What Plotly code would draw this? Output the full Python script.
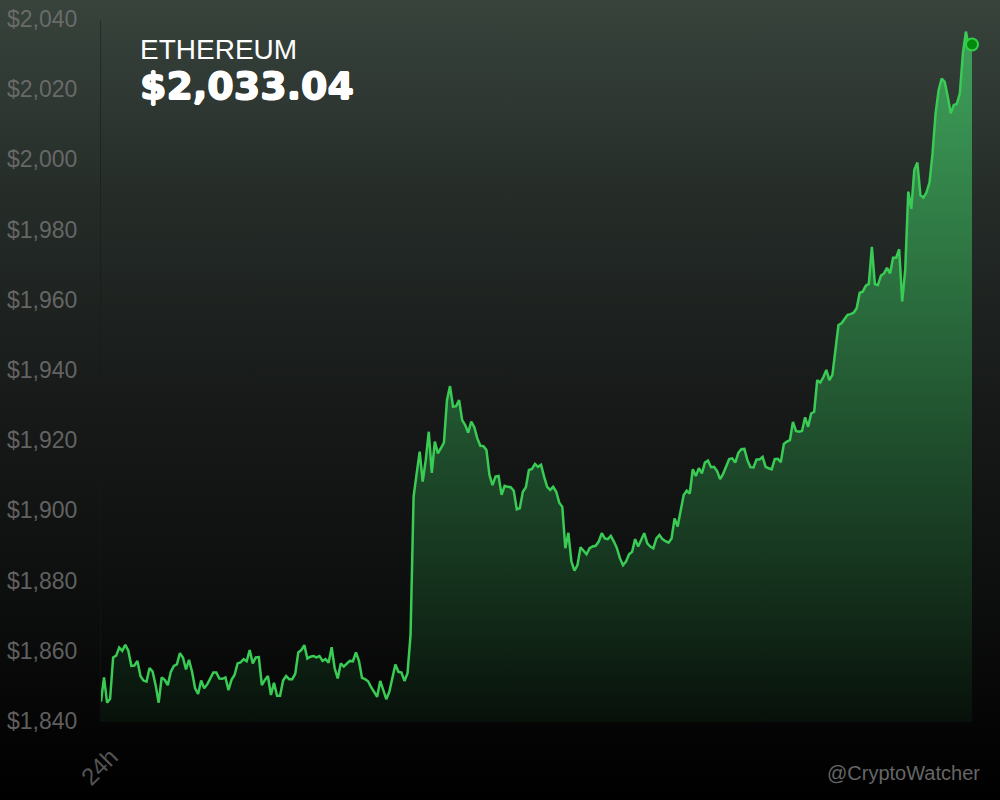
import plotly.graph_objects as go

TITLE = "ETHEREUM"
PRICE_TEXT = "$2,033.04"
WATERMARK = "@CryptoWatcher"
X_TICK_LABEL = ["24h"]
Y_TICKS = [1840, 1860, 1880, 1900, 1920, 1940, 1960, 1980, 2000, 2020, 2040]
Y_TICK_LABELS = ["$1,840", "$1,860", "$1,880", "$1,900", "$1,920", "$1,940", "$1,960", "$1,980", "$2,000", "$2,020", "$2,040"]

prices_flat = [
    1845.8, 1852.7, 1845.5, 1846.6, 1858.4, 1858.9, 1861.2, 1860.3, 1862.0, 1860.3, 1856.0, 1856.1, 1857.4, 1853.1, 1851.8,
    1851.5, 1855.4, 1854.4, 1850.5, 1845.5, 1852.7, 1852.0, 1850.5, 1854.3, 1856.0, 1856.4, 1859.6, 1858.4, 1855.0, 1857.7,
    1854.3, 1849.6, 1848.0, 1851.8, 1849.6, 1850.7, 1852.4, 1854.1, 1854.1, 1852.4, 1852.3, 1852.7, 1849.1, 1852.0, 1853.4,
    1856.7, 1857.0, 1857.9, 1857.3, 1860.5, 1856.7, 1858.4, 1858.5, 1850.5, 1852.0, 1853.1, 1847.7, 1851.2, 1847.5, 1847.5,
    1851.8, 1853.1, 1852.2, 1852.2, 1853.7, 1859.8, 1860.5, 1861.9, 1858.1, 1858.6, 1858.8, 1858.4, 1858.8, 1857.4, 1857.9,
    1856.9, 1861.3, 1855.3, 1852.4, 1856.7, 1855.8, 1856.7, 1857.4, 1857.3, 1859.8, 1857.4, 1852.6, 1852.2, 1851.6, 1849.9,
    1848.4, 1847.2, 1851.7, 1849.3, 1846.5, 1848.6, 1852.4, 1856.4, 1854.3, 1854.1, 1851.7, 1853.9, 1864.8,
]
prices_jump = [
    1904.2, 1910.7, 1917.0, 1908.5, 1914.6, 1922.7, 1911.0, 1919.9, 1916.5, 1918.0, 1919.6, 1931.7, 1935.7, 1929.8, 1930.0,
    1931.7, 1926.0, 1924.6, 1922.4, 1925.6, 1924.0, 1920.8, 1918.7, 1918.6, 1917.5, 1910.4, 1907.5, 1909.9, 1910.1, 1904.7,
    1907.3, 1907.0, 1906.9, 1905.9, 1900.6, 1900.9, 1905.6, 1906.9, 1911.8, 1912.1, 1913.5, 1912.7, 1913.3, 1909.9, 1907.0,
    1906.1, 1907.0, 1905.6, 1902.5, 1901.3, 1889.5, 1893.9, 1885.7, 1883.1, 1884.7, 1889.8, 1888.8, 1887.8, 1889.5, 1890.0,
    1890.2, 1891.4, 1893.8, 1892.3, 1892.1, 1893.0, 1891.4, 1889.5, 1886.6, 1884.7, 1885.7, 1887.8, 1888.5, 1892.1, 1890.0,
    1891.9, 1893.8, 1890.9, 1890.0, 1889.5, 1892.3, 1893.3, 1892.1, 1891.5, 1891.1, 1892.3, 1898.0, 1895.7, 1900.4, 1904.7,
    1905.9, 1905.1, 1912.0, 1910.1, 1912.3,
]
prices_climb = [
    1910.8, 1913.9, 1914.5, 1912.6, 1912.7, 1911.5, 1909.2, 1910.7, 1912.7, 1914.9, 1915.1, 1913.9, 1916.7, 1917.7, 1917.8,
    1914.6, 1912.6, 1912.5, 1914.8, 1914.8, 1915.5, 1912.7, 1912.3, 1912.0, 1914.9, 1915.0, 1914.0, 1919.2, 1919.9, 1920.3,
    1925.5, 1922.9, 1922.7, 1922.9, 1926.8, 1924.1, 1927.9, 1928.4, 1937.4, 1936.7, 1938.2, 1940.3, 1937.4, 1938.9, 1946.0,
    1953.1, 1953.6, 1955.0, 1956.0, 1956.2, 1956.6, 1957.9, 1962.3, 1962.6, 1964.3, 1964.8,
]
prices_top = [
    1975.4, 1964.7, 1964.5, 1967.2, 1967.8, 1969.4, 1967.8, 1972.3, 1972.3, 1974.7, 1959.8, 1968.8, 1991.1, 1986.2, 1997.3,
    1999.4, 1990.1, 1989.4, 1990.9, 1993.7, 2002.0, 2013.4, 2020.0, 2023.3, 2022.4, 2018.2, 2013.4, 2015.8, 2016.1, 2019.1,
    2030.5, 2036.7, 2031.9, 2033.04,
]
prices = prices_flat + prices_jump + prices_climb + prices_top
steps = list(range(len(prices)))

fig = go.Figure()

# Full-page vertical background wash on its own paper-sized axes
fig.add_trace(go.Scatter(
    x=[0, 1, 1, 0, 0], y=[0, 0, 1, 1, 0], xaxis="x", yaxis="y", mode="none", fill="toself",
    fillgradient=dict(type="vertical", start=0, stop=1,
                      colorscale=[[0, "#000000"], [0.1, "#050505"], [0.3, "#0f1110"], [0.5, "#171a19"],
                                  [0.75, "#252c28"], [1, "#38433c"]]),
    hoverinfo="skip", showlegend=False))

fig.add_trace(go.Scatter(
    x=steps, y=prices, xaxis="x2", yaxis="y2", mode="lines", fill="tozeroy",
    line=dict(color="#3acb55", width=2.5),
    fillgradient=dict(type="vertical", start=1840, stop=2040,
                      colorscale=[[0, "rgba(40,170,75,0.07)"], [1, "rgba(65,190,100,0.78)"]]),
    hoverinfo="skip", showlegend=False))

fig.add_trace(go.Scatter(
    x=steps[-1:], y=[2033.04], xaxis="x2", yaxis="y2", mode="markers", cliponaxis=False,
    marker=dict(size=12, color="#048a0c", line=dict(color="#2fd048", width=2)),
    hoverinfo="skip", showlegend=False))

fig.update_layout(
    width=1000, height=800, margin=dict(l=0, r=0, t=0, b=0, autoexpand=False),
    paper_bgcolor="#000000", plot_bgcolor="rgba(0,0,0,0)", showlegend=False,
    font=dict(family="Liberation Sans, Arial, sans-serif"),
    xaxis=dict(domain=[0, 1], range=[0, 1], visible=False, fixedrange=True, automargin=False),
    yaxis=dict(domain=[0, 1], range=[0, 1], visible=False, fixedrange=True, automargin=False),
    xaxis2=dict(domain=[0.101, 0.972], range=[0, len(prices) - 1], anchor="y2", showgrid=False, zeroline=False,
                automargin=False, tickmode="array", tickvals=[0], ticktext=X_TICK_LABEL, tickangle=-45, ticks="",
                tickfont=dict(size=24, color="#555555"), ticklabelstandoff=15, ticklabelshift=10, showline=False),
    yaxis2=dict(domain=[0.0975, 0.975], range=[1840, 2040], anchor="x2", showgrid=False, zeroline=False,
                automargin=False, tickmode="array", tickvals=Y_TICKS, ticktext=Y_TICK_LABELS, ticks="",
                tickfont=dict(size=23, color="rgba(120,120,120,0.8)"), ticklabelstandoff=18, ticklabelshift=-1,
                showline=True, linewidth=1, linecolor="rgba(20,25,22,0.5)"),
    annotations=[
        dict(text=TITLE, xref="paper", yref="paper", x=0.138, y=1 - 49.5 / 800, xanchor="left", yanchor="middle",
             showarrow=False, font=dict(size=28, color="#ffffff")),
        dict(text="<b>%s</b>" % PRICE_TEXT, xref="paper", yref="paper", x=0.138, y=1 - 86 / 800, xanchor="left",
             yanchor="middle", showarrow=False,
             font=dict(size=38, color="#ffffff", family="DejaVu Sans",
                       shadow="0.8px 0 0 #fff, -0.8px 0 0 #fff, 0 0.6px 0 #fff, 0 -0.6px 0 #fff")),
        dict(text=WATERMARK, xref="paper", yref="paper", x=0.982, y=1 - 773 / 800, xanchor="right", yanchor="middle",
             showarrow=False, font=dict(size=20, color="#666666")),
    ],
)

fig.write_html("out.html", post_script="document.body.style.margin='0';document.body.style.background='#000';",
               config={"displayModeBar": False})
